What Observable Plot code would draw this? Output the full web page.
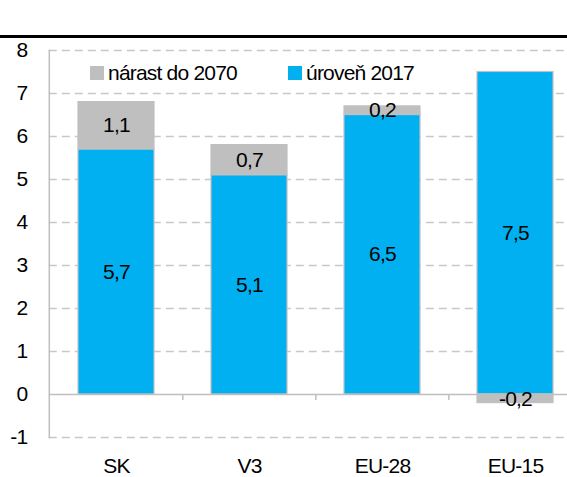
<!DOCTYPE html>
<html>
<head>
<meta charset="utf-8">
<script src="https://cdn.jsdelivr.net/npm/d3@7"></script>
<script src="https://cdn.jsdelivr.net/npm/@observablehq/plot@0.6"></script>
<style>
  html, body { margin: 0; padding: 0; background: #fff; }
  body { width: 567px; height: 477px; position: relative; overflow: hidden; font-family: "Liberation Sans", Arial, sans-serif; }
  #topline { position: absolute; left: 0; top: 35px; width: 567px; height: 3px; background: #000; }
  #chart { position: absolute; left: 0; top: 0; }
  #legend { position: absolute; top: 61px; left: 0; font-size: 21px; letter-spacing: -0.8px; color: #000; }
  .item { position: absolute; white-space: nowrap; display: flex; align-items: center; }
  .sw { width: 14px; height: 14px; display: inline-block; margin-right: 4px; }
</style>
</head>
<body>
<div id="chart"></div>
<div id="topline"></div>
<div id="legend"></div>
<script>
const categories = ["SK", "V3", "EU-28", "EU-15"];
const seriesNames = ["úroveň 2017", "nárast do 2070"];
const level2017 = [5.7, 5.1, 6.5, 7.5];
const increase2070 = [1.1, 0.7, 0.2, -0.2];
const yTicks = [-1, 0, 1, 2, 3, 4, 5, 6, 7, 8];
const colors = ["#00b0f0", "#bfbfbf"];
const legendOrder = ["nárast do 2070", "úroveň 2017"];

const data = [];
categories.forEach((c, i) => {
  data.push({cat: c, series: seriesNames[0], value: level2017[i]});
  data.push({cat: c, series: seriesNames[1], value: increase2070[i]});
});
const fmt = v => v.toFixed(1).replace(".", ",");
const FS = 21;

const chart = Plot.plot({
  width: 567,
  height: 477,
  marginTop: 50,
  marginBottom: 40,
  marginLeft: 48.8,
  marginRight: 0,
  style: {fontFamily: "'Liberation Sans', Arial, sans-serif", fontSize: FS + "px", letterSpacing: "-0.8px", color: "#000", background: "#fff"},
  x: {type: "band", domain: categories, range: [48.8, 582], paddingInner: 0.43, paddingOuter: 0.215, label: null},
  y: {domain: [-1, 8], label: null},
  color: {domain: seriesNames, range: colors},
  marks: [
    Plot.ruleY(yTicks.filter(d => d !== 0), {stroke: "#c8c8c8", strokeWidth: 1.5, strokeDasharray: "8,5"}),
    Plot.barY(data, {x: "cat", y: "value", fill: "series", stroke: "#c0c0c0", strokeWidth: 1.2}),
    Plot.ruleY([0], {stroke: "#bfbfbf", strokeWidth: 1.5}),
    Plot.ruleX(categories.slice(1), {x: d => d, y1: 0, y2: -0.14, dx: -66.65, stroke: "#bfbfbf", strokeWidth: 1.5}),
    Plot.frame({anchor: "left", stroke: "#bfbfbf", strokeWidth: 1.5}),
    Plot.text(data, Plot.stackY({x: "cat", y: "value", text: d => fmt(d.value), fill: "#000", fontSize: FS})),
    Plot.axisY({ticks: yTicks, tickSize: 0, tickPadding: 22, tickFormat: d => String(d), fontSize: FS, fill: "#000"}),
    Plot.axisX({tickSize: 0, tickPadding: 21, fontSize: FS, fill: "#000"})
  ]
});
document.getElementById("chart").appendChild(chart);

const legend = document.getElementById("legend");
const legendX = [90, 288];
legendOrder.forEach((name, i) => {
  const item = document.createElement("div");
  item.className = "item";
  item.style.left = legendX[i] + "px";
  const sw = document.createElement("span");
  sw.className = "sw";
  sw.style.background = colors[seriesNames.indexOf(name)];
  const t = document.createElement("span");
  t.textContent = name;
  item.appendChild(sw);
  item.appendChild(t);
  legend.appendChild(item);
});
</script>
</body>
</html>
